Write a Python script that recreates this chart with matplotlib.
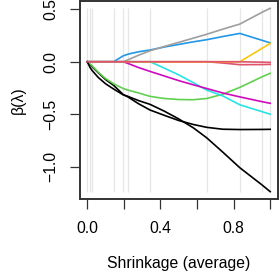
import matplotlib
matplotlib.use('Agg')
import matplotlib.pyplot as plt
import numpy as np

plt.rcParams['font.family'] = ['Liberation Sans', 'DejaVu Sans']

# knots of the path (light grey vertical lines)
knots = [0.0, 0.015, 0.027, 0.144, 0.196, 0.222, 0.343, 0.653, 0.834, 0.954, 1.0]

shrinkage = [0.0, 0.015, 0.027, 0.06, 0.1, 0.144, 0.196, 0.222, 0.28, 0.343,
             0.42, 0.5, 0.58, 0.653, 0.74, 0.834, 0.954, 1.0]

# coefficient paths, one list per column (R default palette order)
beta_black1 = [0, -0.028, -0.048, -0.105, -0.17, -0.225, -0.312, -0.335, -0.40, -0.46,
               -0.51, -0.56, -0.598, -0.625, -0.643, -0.646, -0.645, -0.644]
beta_red1 = [0, 0, 0, 0, 0, 0, 0, 0, 0, 0,
             0, 0, 0, 0, -0.012, -0.028, -0.027, -0.025]
beta_green = [0, -0.022, -0.04, -0.1, -0.16, -0.21, -0.255, -0.27, -0.297, -0.33,
              -0.35, -0.36, -0.362, -0.35, -0.31, -0.244, -0.145, -0.11]
beta_blue = [0, 0, 0, 0, 0, 0, 0.056, 0.072, 0.095, 0.112,
             0.14, 0.165, 0.19, 0.21, 0.24, 0.27, 0.205, 0.18]
beta_cyan = [0, 0, 0, 0, 0, 0, 0, 0, 0, 0,
             -0.06, -0.125, -0.2, -0.27, -0.325, -0.41, -0.475, -0.50]
beta_magenta = [0, 0, 0, 0, 0, 0, 0, -0.016, -0.055, -0.092,
                -0.135, -0.18, -0.22, -0.255, -0.297, -0.335, -0.38, -0.396]
beta_yellow = [0, 0, 0, 0, 0, 0, 0, 0, 0, 0,
               0, 0, 0, 0, 0, 0, 0.126, 0.175]
beta_gray = [0, 0, 0, 0, 0, 0, 0, 0.018, 0.062, 0.105,
             0.145, 0.185, 0.225, 0.262, 0.31, 0.359, 0.47, 0.509]
beta_black2 = [0, -0.055, -0.085, -0.15, -0.21, -0.26, -0.315, -0.33, -0.37, -0.406,
               -0.47, -0.545, -0.63, -0.725, -0.86, -1.01, -1.172, -1.238]
beta_red2 = [0, 0, 0, 0, 0, 0, 0, 0, 0, 0,
             0, 0, 0, 0, 0, 0, -0.004, -0.006]

paths = [beta_black1, beta_red1, beta_green, beta_blue, beta_cyan,
         beta_magenta, beta_yellow, beta_gray, beta_black2, beta_red2]
colors = ['#000000', '#DF536B', '#61D04F', '#2297E6', '#28E2E5',
          '#CD0BBC', '#F5C710', '#9E9E9E', '#000000', '#DF536B']

fig = plt.figure(figsize=(2.79, 2.79), dpi=100)
ax = fig.add_axes([80 / 279, 80 / 279, 197.5 / 279, 198 / 279])

B = np.array(paths)
ymin, ymax = B.min(), B.max()
ax.vlines(knots, ymin, ymax, color='#e6e6e6', linewidth=0.9, zorder=1)

for b, c in zip(paths, colors):
    ax.plot(shrinkage, b, color=c, linewidth=1.2, zorder=2)

ext = 0.04 * (ymax - ymin)
ax.set_xlim(-0.04, 1.04)
ax.set_ylim(ymin - ext, ymax + ext)

ax.set_xticks([0, 0.2, 0.4, 0.6, 0.8, 1.0])
ax.set_xticklabels(['0.0', '', '0.4', '', '0.8', ''])
ax.set_yticks([-1.0, -0.5, 0.0, 0.5])
ax.set_yticklabels(['\u22121.0', '\u22120.5', '0.0', '0.5'])
for lbl in ax.get_yticklabels():
    lbl.set_rotation(90)
    lbl.set_va('center')

ax.tick_params(length=7.5, width=0.9, color='#333333', labelsize=11.3, pad=8)
for s in ax.spines.values():
    s.set_color('#333333')
    s.set_linewidth(1.4)

ax.set_xlabel('Shrinkage (average)', fontsize=11.3, labelpad=15)
ax.set_ylabel('\u03b2(\u03bb)', fontsize=11.3, labelpad=13)

fig.savefig('out.png', dpi=100)
